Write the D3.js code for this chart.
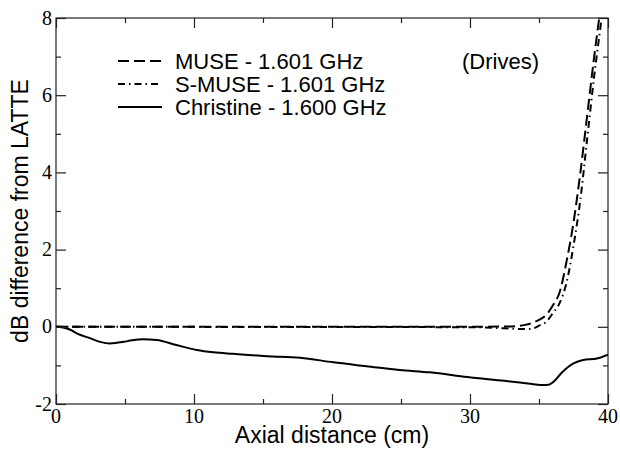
<!DOCTYPE html>
<html>
<head>
<meta charset="utf-8">
<script src="https://cdn.jsdelivr.net/npm/d3@7"></script>
<style>
  body { margin: 0; background: #fff; }
  svg { display: block; }
</style>
</head>
<body>
<svg id="chart" width="620" height="449"></svg>
<script>
// values
const museX = [0, 30, 32, 33, 34, 35, 35.5, 36, 36.5, 37, 37.5, 38, 38.5, 39, 39.4, 39.7]
const museY = [0, 0, 0.005, 0.01, 0.05, 0.18, 0.3, 0.55, 0.9, 1.7, 2.7, 4.0, 5.5, 7.0, 8.1, 8.9]

const smuseX = [0, 30, 32, 33, 34, 34.5, 35, 35.5, 36, 36.5, 37, 37.5, 38, 38.5, 39, 39.5, 39.8]
const smuseY = [0, -0.01, -0.03, -0.05, -0.06, -0.05, 0.03, 0.12, 0.35, 0.62, 1.15, 2.1, 3.3, 4.9, 6.5, 7.9, 8.8]

const christineX = [0, 0.5, 1, 1.5, 2.5, 3.2, 3.9, 4.9, 5.5, 6.3, 7.3, 8.7, 10.2, 11.4, 12.8, 15.3, 17.7, 20.1, 22.5, 24.9, 27.1, 29.8, 32.5, 34.5, 35.3, 35.7, 36.0, 36.7, 37.5, 38.2, 39.2, 40]
const christineY = [0, -0.02, -0.07, -0.17, -0.3, -0.39, -0.43, -0.39, -0.35, -0.32, -0.34, -0.47, -0.6, -0.66, -0.7, -0.76, -0.8, -0.92, -1.02, -1.12, -1.18, -1.3, -1.4, -1.48, -1.51, -1.5, -1.44, -1.17, -0.95, -0.86, -0.82, -0.72]

const legendLabels = ["MUSE - 1.601 GHz", "S-MUSE - 1.601 GHz", "Christine - 1.600 GHz"]
const xMajor = [0, 10, 20, 30, 40]
const xMinor = [5, 15, 25, 35]
const yMajor = [-2, 0, 2, 4, 6, 8]
const yMinor = [-1, 1, 3, 5, 7]

const svg = d3.select('#chart')
const plotLeft = 56, plotRight = 608, plotTop = 18, plotBottom = 404
const sansFont = "'Liberation Sans', Arial, sans-serif"
const serifFont = "'Liberation Serif', 'Times New Roman', serif"

const x = d3.scaleLinear().domain([0, 40]).range([plotLeft, plotRight])
const y = d3.scaleLinear().domain([-2, 8]).range([plotBottom, plotTop])

const series = [
    {xs: museX, ys: museY, dash: "11,5"},
    {xs: smuseX, ys: smuseY, dash: "7,4,1.5,4"},
    {xs: christineX, ys: christineY, dash: null}
]

svg.append("clipPath").attr("id", "plotclip")
    .append("rect")
    .attr("x", plotLeft).attr("y", plotTop)
    .attr("width", plotRight - plotLeft).attr("height", plotBottom - plotTop)

const line = d3.line()
    .x(d => x(d[0]))
    .y(d => y(d[1]))
    .curve(d3.curveMonotoneX)

series.forEach(s => {
    let pts = s.xs.map((v, i) => [v, s.ys[i]])
    svg.append("path")
        .attr("clip-path", "url(#plotclip)")
        .attr("d", line(pts))
        .attr("fill", "none")
        .attr("stroke", "#000")
        .attr("stroke-width", 2)
        .attr("stroke-dasharray", s.dash)
})

// tick marks only, pointing inward on all four sides
function styleAxis(g) {
    g.select(".domain").remove()
    g.selectAll(".tick line").attr("stroke", "#222").attr("stroke-width", 1.2)
    g.selectAll(".tick text").remove()
}

const tickSets = [
    [d3.axisBottom(x).tickValues(xMajor).tickSize(-10), `translate(0,${plotBottom})`],
    [d3.axisBottom(x).tickValues(xMinor).tickSize(-5), `translate(0,${plotBottom})`],
    [d3.axisTop(x).tickValues(xMajor).tickSize(-10), `translate(0,${plotTop})`],
    [d3.axisTop(x).tickValues(xMinor).tickSize(-5), `translate(0,${plotTop})`],
    [d3.axisLeft(y).tickValues(yMajor).tickSize(-10), `translate(${plotLeft},0)`],
    [d3.axisLeft(y).tickValues(yMinor).tickSize(-5), `translate(${plotLeft},0)`],
    [d3.axisRight(y).tickValues(yMajor).tickSize(-10), `translate(${plotRight},0)`],
    [d3.axisRight(y).tickValues(yMinor).tickSize(-5), `translate(${plotRight},0)`]
]
tickSets.forEach(t => {
    svg.append("g").attr("transform", t[1]).call(t[0]).call(styleAxis)
})

// tick labels (serif, like the original)
svg.append("g").selectAll("text")
    .data(xMajor)
    .join("text")
    .attr("x", d => x(d))
    .attr("y", plotBottom + 19)
    .attr("text-anchor", "middle")
    .attr("font-family", serifFont)
    .style("font-family", serifFont)
    .style("font-size", "20px")
    .text(d => String(d))

svg.append("g").selectAll("text")
    .data(yMajor)
    .join("text")
    .attr("x", plotLeft - 4)
    .attr("y", d => y(d))
    .attr("dy", "0.33em")
    .attr("text-anchor", "end")
    .attr("font-family", serifFont)
    .style("font-family", serifFont)
    .style("font-size", "20px")
    .text(d => String(d))

// frame
svg.append("rect")
    .attr("x", plotLeft).attr("y", plotTop)
    .attr("width", plotRight - plotLeft).attr("height", plotBottom - plotTop)
    .attr("fill", "none")
    .attr("stroke", "#222")
    .attr("stroke-width", 1.2)

// axis titles
svg.append("text")
    .attr("x", (plotLeft + plotRight) / 2).attr("y", 443)
    .attr("text-anchor", "middle")
    .style("font-family", sansFont)
    .style("font-size", "23px")
    .text("Axial distance (cm)")

svg.append("text")
    .attr("transform", `translate(28,${(plotTop + plotBottom) / 2}) rotate(-90)`)
    .attr("text-anchor", "middle")
    .style("font-family", sansFont)
    .style("font-size", "23px")
    .text("dB difference from LATTE")

// legend
const legend = svg.append("g")
legendLabels.forEach((lab, i) => {
    let ly = 61 + i * 23
    legend.append("line")
        .attr("x1", 118).attr("x2", 162)
        .attr("y1", ly).attr("y2", ly)
        .attr("stroke", "#000")
        .attr("stroke-width", 2)
        .attr("stroke-dasharray", series[i].dash)
    legend.append("text")
        .attr("x", 175).attr("y", ly)
        .attr("dy", "0.36em")
        .style("font-family", sansFont)
        .style("font-size", "22px")
        .text(lab)
})

svg.append("text")
    .attr("x", 462).attr("y", 61)
    .attr("dy", "0.36em")
    .style("font-family", sansFont)
    .style("font-size", "22px")
    .text("(Drives)")
</script>
</body>
</html>
